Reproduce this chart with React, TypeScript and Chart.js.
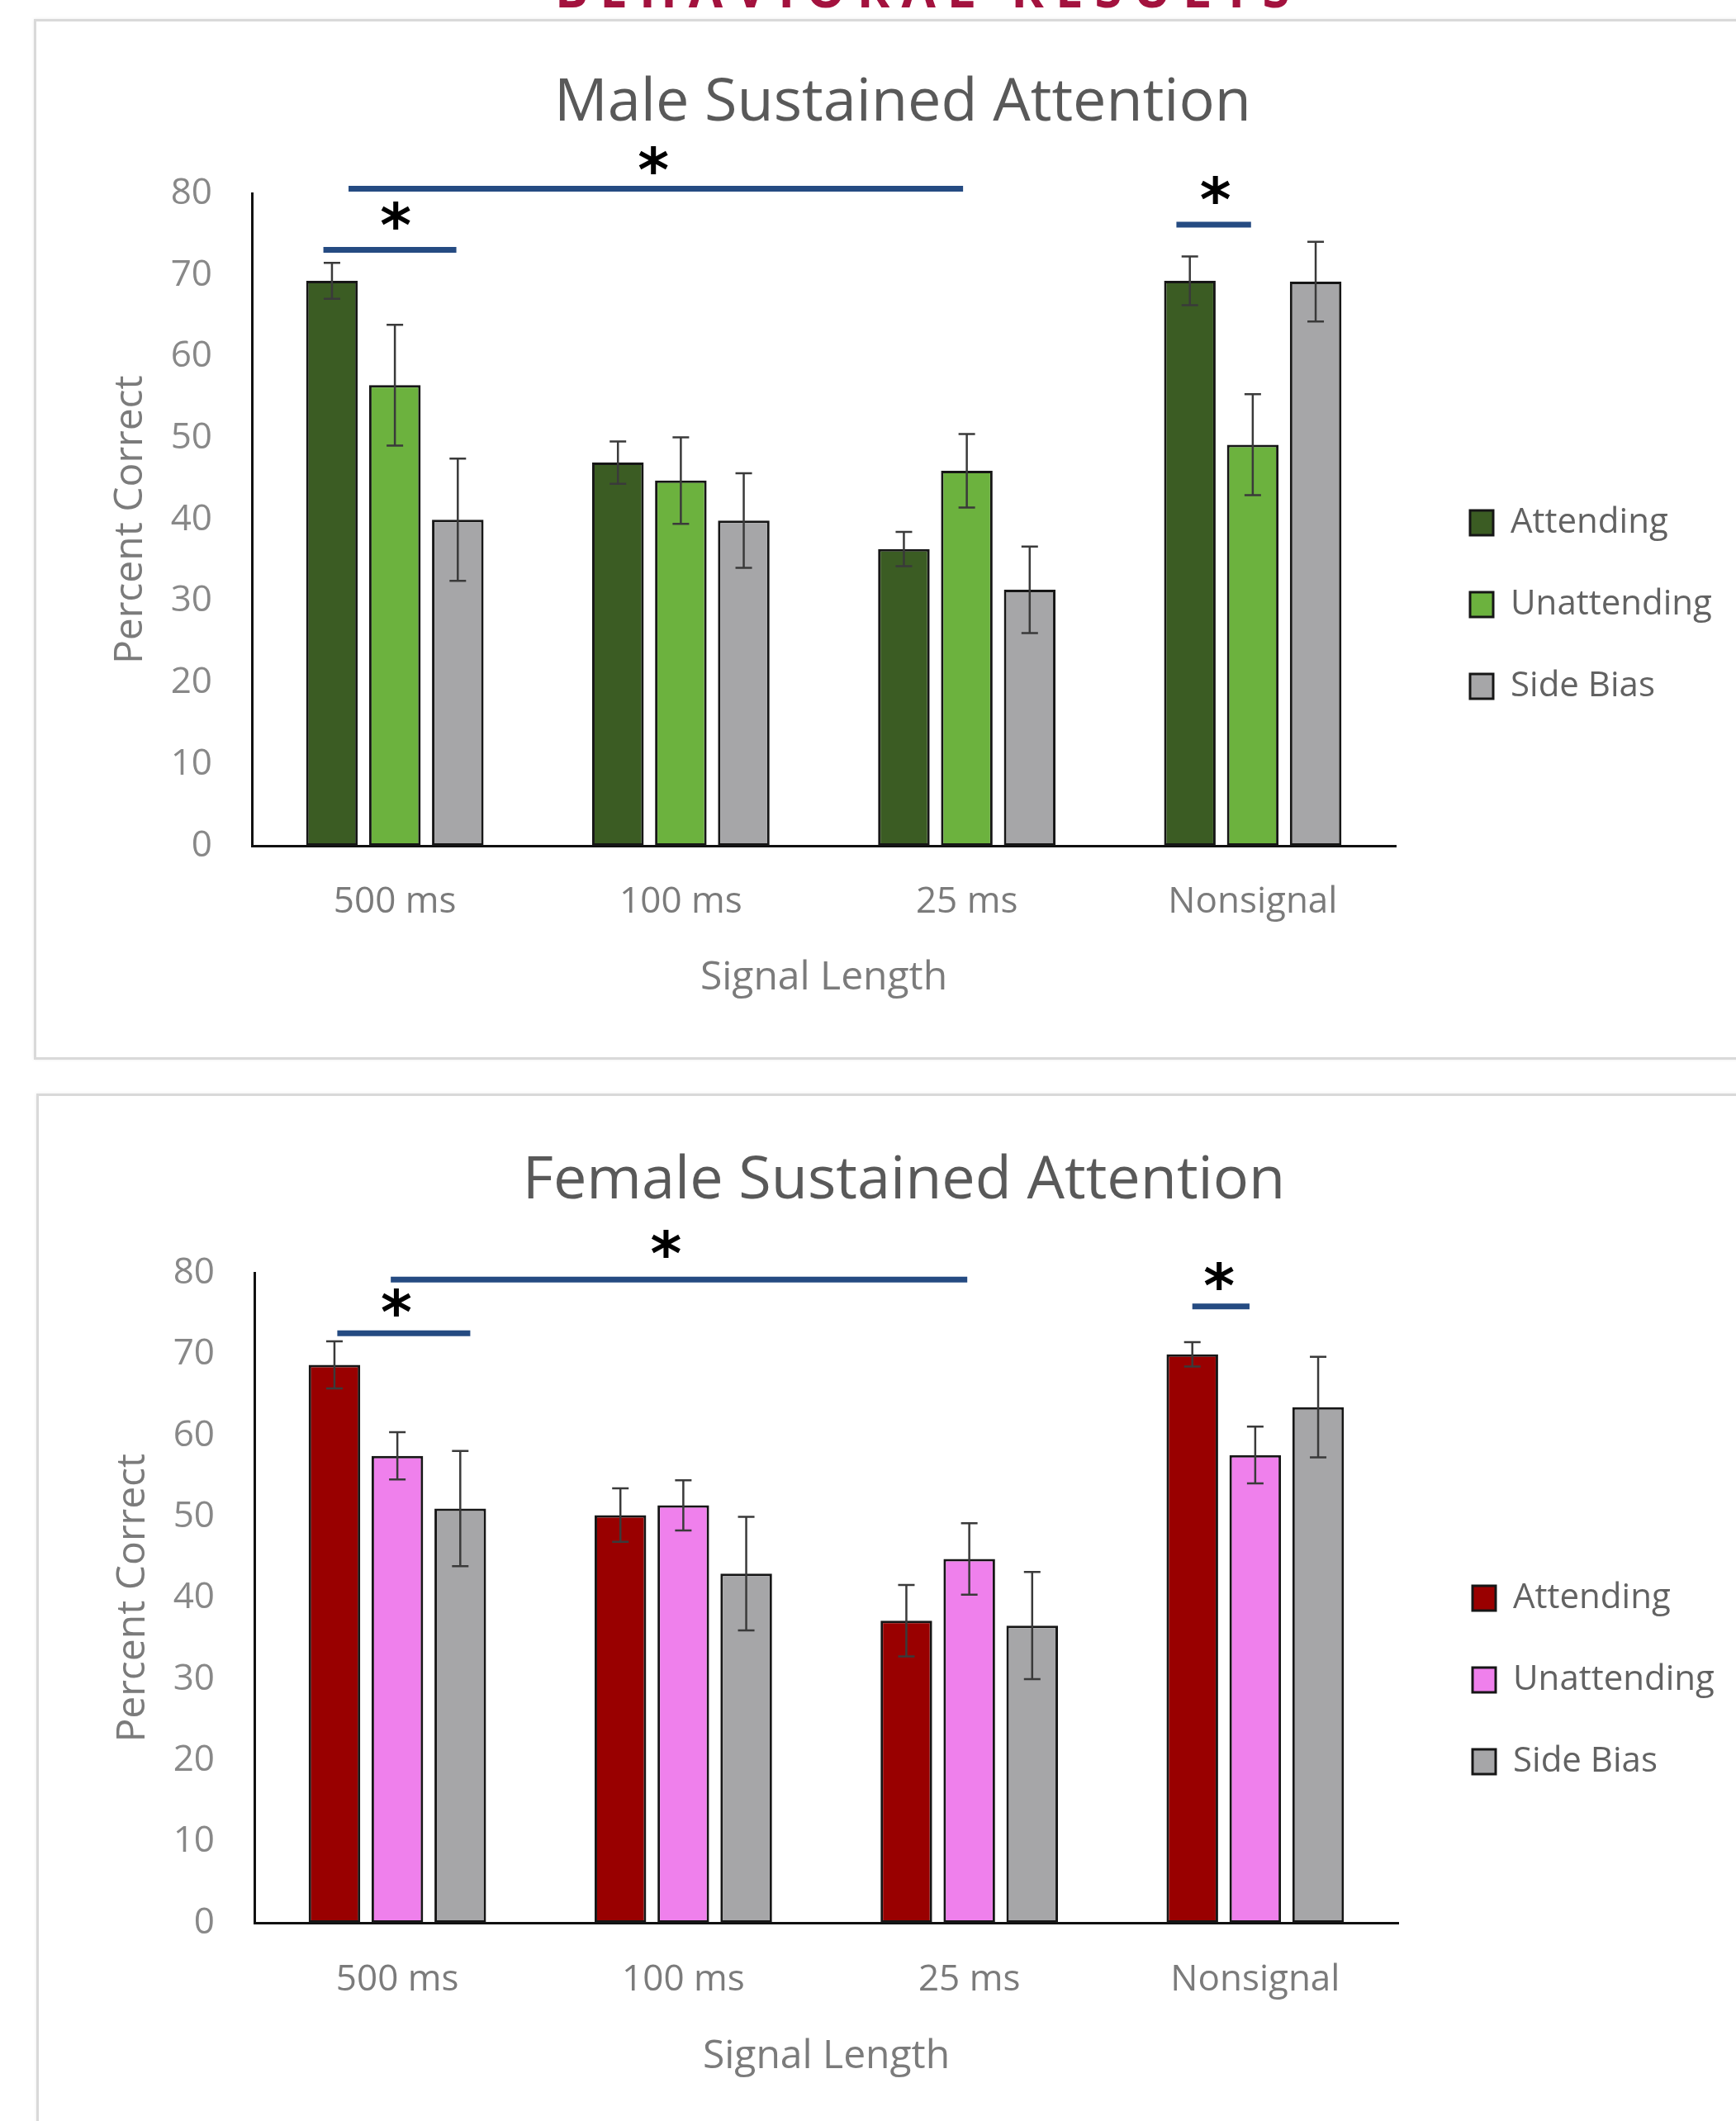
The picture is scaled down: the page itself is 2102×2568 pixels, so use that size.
import React, { useEffect, useRef } from 'react';
import { Chart, registerables } from 'chart.js';

Chart.register(...registerables);

const FONT = '"Open Sans", "Noto Sans", sans-serif';

// ---------- data ----------
const categories = ['500 ms', '100 ms', '25 ms', 'Nonsignal'];
const seriesNames = ['Attending', 'Unattending', 'Side Bias'];
const yTickValues = [0, 10, 20, 30, 40, 50, 60, 70, 80];

const maleAttending = [69.3, 47.0, 36.4, 69.3];
const maleAttendingErr = [2.2, 2.6, 2.1, 3.0];
const maleUnattending = [56.5, 44.8, 46.0, 49.2];
const maleUnattendingErr = [7.4, 5.3, 4.5, 6.2];
const maleSideBias = [40.0, 39.9, 31.4, 69.2];
const maleSideBiasErr = [7.5, 5.8, 5.3, 4.9];

const femaleAttending = [68.7, 50.2, 37.2, 70.0];
const femaleAttendingErr = [2.9, 3.3, 4.4, 1.5];
const femaleUnattending = [57.5, 51.4, 44.8, 57.6];
const femaleUnattendingErr = [2.9, 3.1, 4.4, 3.5];
const femaleSideBias = [51.0, 43.0, 36.6, 63.5];
const femaleSideBiasErr = [7.1, 7.0, 6.6, 6.2];

// significance markers: x in category units (0 = centre of first category), y in percent
const maleSigLines = [
  { from: -0.25, to: 0.215, y: 73.1 },
  { from: -0.162, to: 1.987, y: 80.6 },
  { from: 2.733, to: 2.994, y: 76.2 },
];
const maleSigStars = [
  { x: 0.003, y: 77.3 },
  { x: 0.904, y: 84.1 },
  { x: 2.87, y: 80.4 },
];
const femaleSigLines = [
  { from: -0.21, to: 0.255, y: 72.6 },
  { from: -0.023, to: 1.993, y: 79.2 },
  { from: 2.78, to: 2.98, y: 75.9 },
];
const femaleSigStars = [
  { x: -0.003, y: 76.4 },
  { x: 0.94, y: 83.6 },
  { x: 2.874, y: 79.6 },
];

const maleColors = ['#3b5c23', '#6cb23e', '#a6a6a8'];
const femaleColors = ['#990000', '#ef80ec', '#a6a6a8'];

// ---------- plugins ----------
const errorBarsPlugin = {
  id: 'errorBars',
  afterDatasetsDraw(chart: any, _args: any, opts: any) {
    const errs: number[][] = opts.errors || [];
    const ys = chart.scales.y;
    const ctx = chart.ctx;
    ctx.save();
    ctx.strokeStyle = opts.color;
    ctx.lineWidth = opts.lineWidth;
    ctx.lineCap = 'butt';
    chart.data.datasets.forEach((ds: any, di: number) => {
      const e = errs[di];
      if (!e) return;
      const meta = chart.getDatasetMeta(di);
      meta.data.forEach((bar: any, i: number) => {
        const v = ds.data[i];
        const top = ys.getPixelForValue(v + e[i]);
        const bot = ys.getPixelForValue(v - e[i]);
        const x = bar.x;
        const c = opts.capHalf;
        ctx.beginPath();
        ctx.moveTo(x, top);
        ctx.lineTo(x, bot);
        ctx.moveTo(x - c, top);
        ctx.lineTo(x + c, top);
        ctx.moveTo(x - c, bot);
        ctx.lineTo(x + c, bot);
        ctx.stroke();
      });
    });
    ctx.restore();
  },
};

const significancePlugin = {
  id: 'significance',
  afterDraw(chart: any, _args: any, opts: any) {
    const xs = chart.scales.x;
    const ys = chart.scales.y;
    const ctx = chart.ctx;
    const p0 = xs.getPixelForValue(0);
    const p1 = xs.getPixelForValue(1);
    const px = (u: number) => p0 + u * (p1 - p0);
    ctx.save();
    ctx.strokeStyle = opts.lineColor;
    ctx.lineWidth = opts.lineWidth;
    ctx.lineCap = 'butt';
    (opts.lines || []).forEach((l: any) => {
      const y = ys.getPixelForValue(l.y);
      ctx.beginPath();
      ctx.moveTo(px(l.from), y);
      ctx.lineTo(px(l.to), y);
      ctx.stroke();
    });
    ctx.fillStyle = opts.starColor;
    ctx.font = `bold 100px ${opts.starFamily}`;
    const m = ctx.measureText('*');
    const h = m.actualBoundingBoxAscent + m.actualBoundingBoxDescent;
    const size = (100 * opts.starHeight) / (h || 40);
    ctx.font = `bold ${size}px ${opts.starFamily}`;
    const m2 = ctx.measureText('*');
    ctx.textAlign = 'left';
    ctx.textBaseline = 'alphabetic';
    (opts.stars || []).forEach((s: any) => {
      const cx = px(s.x);
      const cy = ys.getPixelForValue(s.y);
      const x = cx - (m2.actualBoundingBoxRight - m2.actualBoundingBoxLeft) / 2;
      const y = cy + (m2.actualBoundingBoxAscent - m2.actualBoundingBoxDescent) / 2;
      ctx.fillText('*', x, y);
    });
    ctx.restore();
  },
};

// keeps the legend box at a fixed width so its labels are not clipped
const legendWidthPlugin = {
  id: 'legendWidth',
  beforeLayout(chart: any, _args: any, opts: any) {
    const lg = chart.legend;
    if (lg && !lg._fixedWidthPatched) {
      const orig = lg.fit.bind(lg);
      lg.fit = function () {
        orig();
        this.width = opts.width;
      };
      lg._fixedWidthPatched = true;
    }
  },
};

type Geo = {
  width: number;
  height: number;
  legendWidth: number;
  titlePadTop: number;
  titlePadBottom: number;
  xAxisHeight: number;
  xTickPad: number;
  xTitlePadBottom: number;
  legendTitlePad: number;
};

function SustainedChart(props: {
  title: string;
  series: number[][];
  errors: number[][];
  colors: string[];
  sigLines: any[];
  sigStars: any[];
  geo: Geo;
}) {
  const ref = useRef<HTMLCanvasElement | null>(null);
  const { title, series, errors, colors, sigLines, sigStars, geo } = props;

  useEffect(() => {
    if (!ref.current) return;
    const axisText = '#7b7b7b';
    const chart = new Chart(ref.current, {
      type: 'bar',
      data: {
        labels: categories,
        datasets: series.map((d, i) => ({
          label: seriesNames[i],
          data: d,
          backgroundColor: colors[i],
          borderColor: '#161616',
          borderWidth: 3,
          borderSkipped: false,
          categoryPercentage: 0.66,
          barPercentage: 0.82,
        })),
      },
      options: {
        animation: false,
        responsive: false,
        maintainAspectRatio: false,
        devicePixelRatio: 1,
        layout: { padding: { left: 43, right: 0, top: 0, bottom: 0 } },
        scales: {
          x: {
            type: 'category',
            grid: { display: false, drawTicks: false },
            border: { display: true, color: '#111111', width: 3 },
            ticks: { color: axisText, font: { family: FONT, size: 44 }, padding: geo.xTickPad },
            title: {
              display: true,
              text: 'Signal Length',
              color: axisText,
              font: { family: FONT, size: 48 },
              padding: { top: 0, bottom: geo.xTitlePadBottom },
            },
            afterFit: (s: any) => {
              s.height = geo.xAxisHeight;
            },
          },
          y: {
            type: 'linear',
            min: 0,
            max: 80,
            grid: { display: false, drawTicks: false },
            border: { display: true, color: '#111111', width: 3 },
            ticks: { stepSize: 10, color: '#888888', font: { family: FONT, size: 44 }, padding: 48 },
            afterBuildTicks: (s: any) => {
              s.ticks = yTickValues.map((v) => ({ value: v }));
            },
            title: {
              display: true,
              text: 'Percent Correct',
              color: axisText,
              font: { family: FONT, size: 48 },
              padding: { top: 46, bottom: 4 },
            },
            afterFit: (s: any) => {
              s.width = 221;
            },
          },
          gap: {
            type: 'linear',
            position: 'right',
            display: true,
            grid: { display: false, drawTicks: false },
            border: { display: false },
            ticks: { display: false },
            afterFit: (s: any) => {
              s.width = 33;
            },
          },
        } as any,
        plugins: {
          title: {
            display: true,
            text: title,
            color: '#595959',
            font: { family: FONT, size: 72, weight: 'normal' },
            padding: { top: geo.titlePadTop, bottom: geo.titlePadBottom },
          },
          legend: {
            position: 'right',
            align: 'center',
            title: { display: true, text: '', font: { size: 10 }, padding: { top: geo.legendTitlePad, bottom: 0 } },
            labels: {
              boxWidth: 28,
              boxHeight: 30,
              padding: 57,
              color: '#626262',
              font: { family: FONT, size: 42 },
            },
          },
          legendWidth: { width: geo.legendWidth },
          tooltip: { enabled: false },
          errorBars: { errors, color: '#3a3a3a', lineWidth: 2.5, capHalf: 10 },
          significance: {
            lines: sigLines,
            stars: sigStars,
            lineColor: '#254b82',
            lineWidth: 7,
            starColor: '#000000',
            starFamily: '"DejaVu Sans", sans-serif',
            starHeight: 34,
          },
        } as any,
      },
      plugins: [legendWidthPlugin, errorBarsPlugin, significancePlugin],
    });
    return () => chart.destroy();
  }, []);

  return (
    <canvas
      ref={ref}
      width={geo.width}
      height={geo.height}
      style={{ width: geo.width, height: geo.height, display: 'block' }}
    />
  );
}

const maleGeo: Geo = {
  width: 2061,
  height: 1260,
  legendWidth: 379,
  titlePadTop: 59,
  titlePadBottom: 66,
  xAxisHeight: 259,
  xTickPad: 42,
  xTitlePadBottom: 70,
  legendTitlePad: 146,
};

const femaleGeo: Geo = {
  width: 2058,
  height: 1244,
  legendWidth: 376,
  titlePadTop: 63,
  titlePadBottom: 68,
  xAxisHeight: 240,
  xTickPad: 43,
  xTitlePadBottom: 49,
  legendTitlePad: 164,
};

export default function App() {
  useEffect(() => {
    document.body.style.margin = '0';
  }, []);
  const panelStyle = (left: number, top: number, height: number): React.CSSProperties => ({
    position: 'absolute',
    left,
    top,
    width: 2200,
    height,
    border: '3px solid #d9d9d9',
    boxShadow: '0 0 4px rgba(0,0,0,0.08)',
    boxSizing: 'border-box',
    background: '#ffffff',
  });
  return (
    <div
      style={{
        position: 'absolute',
        left: 0,
        top: 0,
        width: 2102,
        height: 2568,
        overflow: 'hidden',
        background: '#ffffff',
      }}
    >
      <div
        style={{
          position: 'absolute',
          left: 0,
          top: 0,
          width: 2102,
          height: 12,
          overflow: 'hidden',
        }}
      >
        <div
          style={{
            position: 'absolute',
            left: 672,
            top: -44,
            whiteSpace: 'nowrap',
            fontFamily: FONT,
            fontWeight: 700,
            fontSize: 60,
            lineHeight: '60px',
            letterSpacing: 14,
            color: '#a3123e',
          }}
        >
          BEHAVIORAL RESULTS
        </div>
      </div>
      <div style={panelStyle(41, 23, 1260)} />
      <div style={panelStyle(44, 1324, 1300)} />
      <div style={{ position: 'absolute', left: 41, top: 23 }}>
        <SustainedChart
          title="Male Sustained Attention"
          series={[maleAttending, maleUnattending, maleSideBias]}
          errors={[maleAttendingErr, maleUnattendingErr, maleSideBiasErr]}
          colors={maleColors}
          sigLines={maleSigLines}
          sigStars={maleSigStars}
          geo={maleGeo}
        />
      </div>
      <div style={{ position: 'absolute', left: 44, top: 1324 }}>
        <SustainedChart
          title="Female Sustained Attention"
          series={[femaleAttending, femaleUnattending, femaleSideBias]}
          errors={[femaleAttendingErr, femaleUnattendingErr, femaleSideBiasErr]}
          colors={femaleColors}
          sigLines={femaleSigLines}
          sigStars={femaleSigStars}
          geo={femaleGeo}
        />
      </div>
    </div>
  );
}
